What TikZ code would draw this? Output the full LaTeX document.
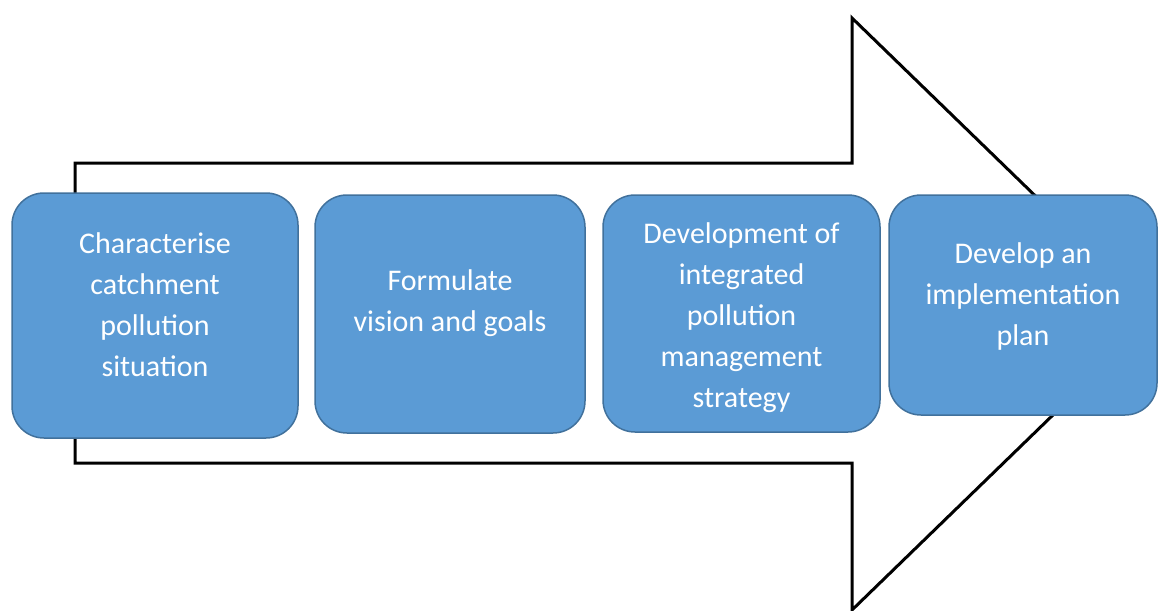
\documentclass[tikz,border=0pt]{standalone}
\usepackage{fontspec}
\setmainfont{Carlito}
\definecolor{stagefill}{HTML}{5B9BD5}
\definecolor{stageedge}{HTML}{41719C}
\begin{document}
\begin{tikzpicture}[x=1pt,y=-1pt,
  stage/.style={draw=stageedge, fill=stagefill, line width=1.5pt,
    rounded corners=32pt, inner sep=0pt},
  stagetext/.style={text=white, align=center, inner sep=0pt,
    font=\fontsize{30}{41}\selectfont},
  outline/.style={draw=black, line width=3pt, line join=miter}]
\useasboundingbox (0,0) rectangle (1158,610);

% large block arrow behind the stages
\draw[outline] (75,163) -- (852,163) -- (852,18) -- (1157,314)
  -- (852,610) -- (852,463) -- (75,463) -- cycle;

% stage boxes
\node[stage, minimum width=286pt, minimum height=245pt] (s1) at (155,315.5) {};
\node[stage, minimum width=270pt, minimum height=238pt] (s2) at (450,314) {};
\node[stage, minimum width=277pt, minimum height=237pt] (s3) at (741.5,313.5) {};
\node[stage, minimum width=268pt, minimum height=220pt] (s4) at (1023,305) {};

% stage labels
\node[stagetext] (t1) at (155,305) {Characterise\\catchment\\pollution\\situation};
\node[stagetext] (t2) at (450,303) {Formulate\\vision and goals};
\node[stagetext] (t3) at (741.5,318) {Development of\\integrated\\pollution\\management\\strategy};
\node[stagetext] (t4) at (1023,296) {Develop an\\implementation\\plan};
\end{tikzpicture}
\end{document}
